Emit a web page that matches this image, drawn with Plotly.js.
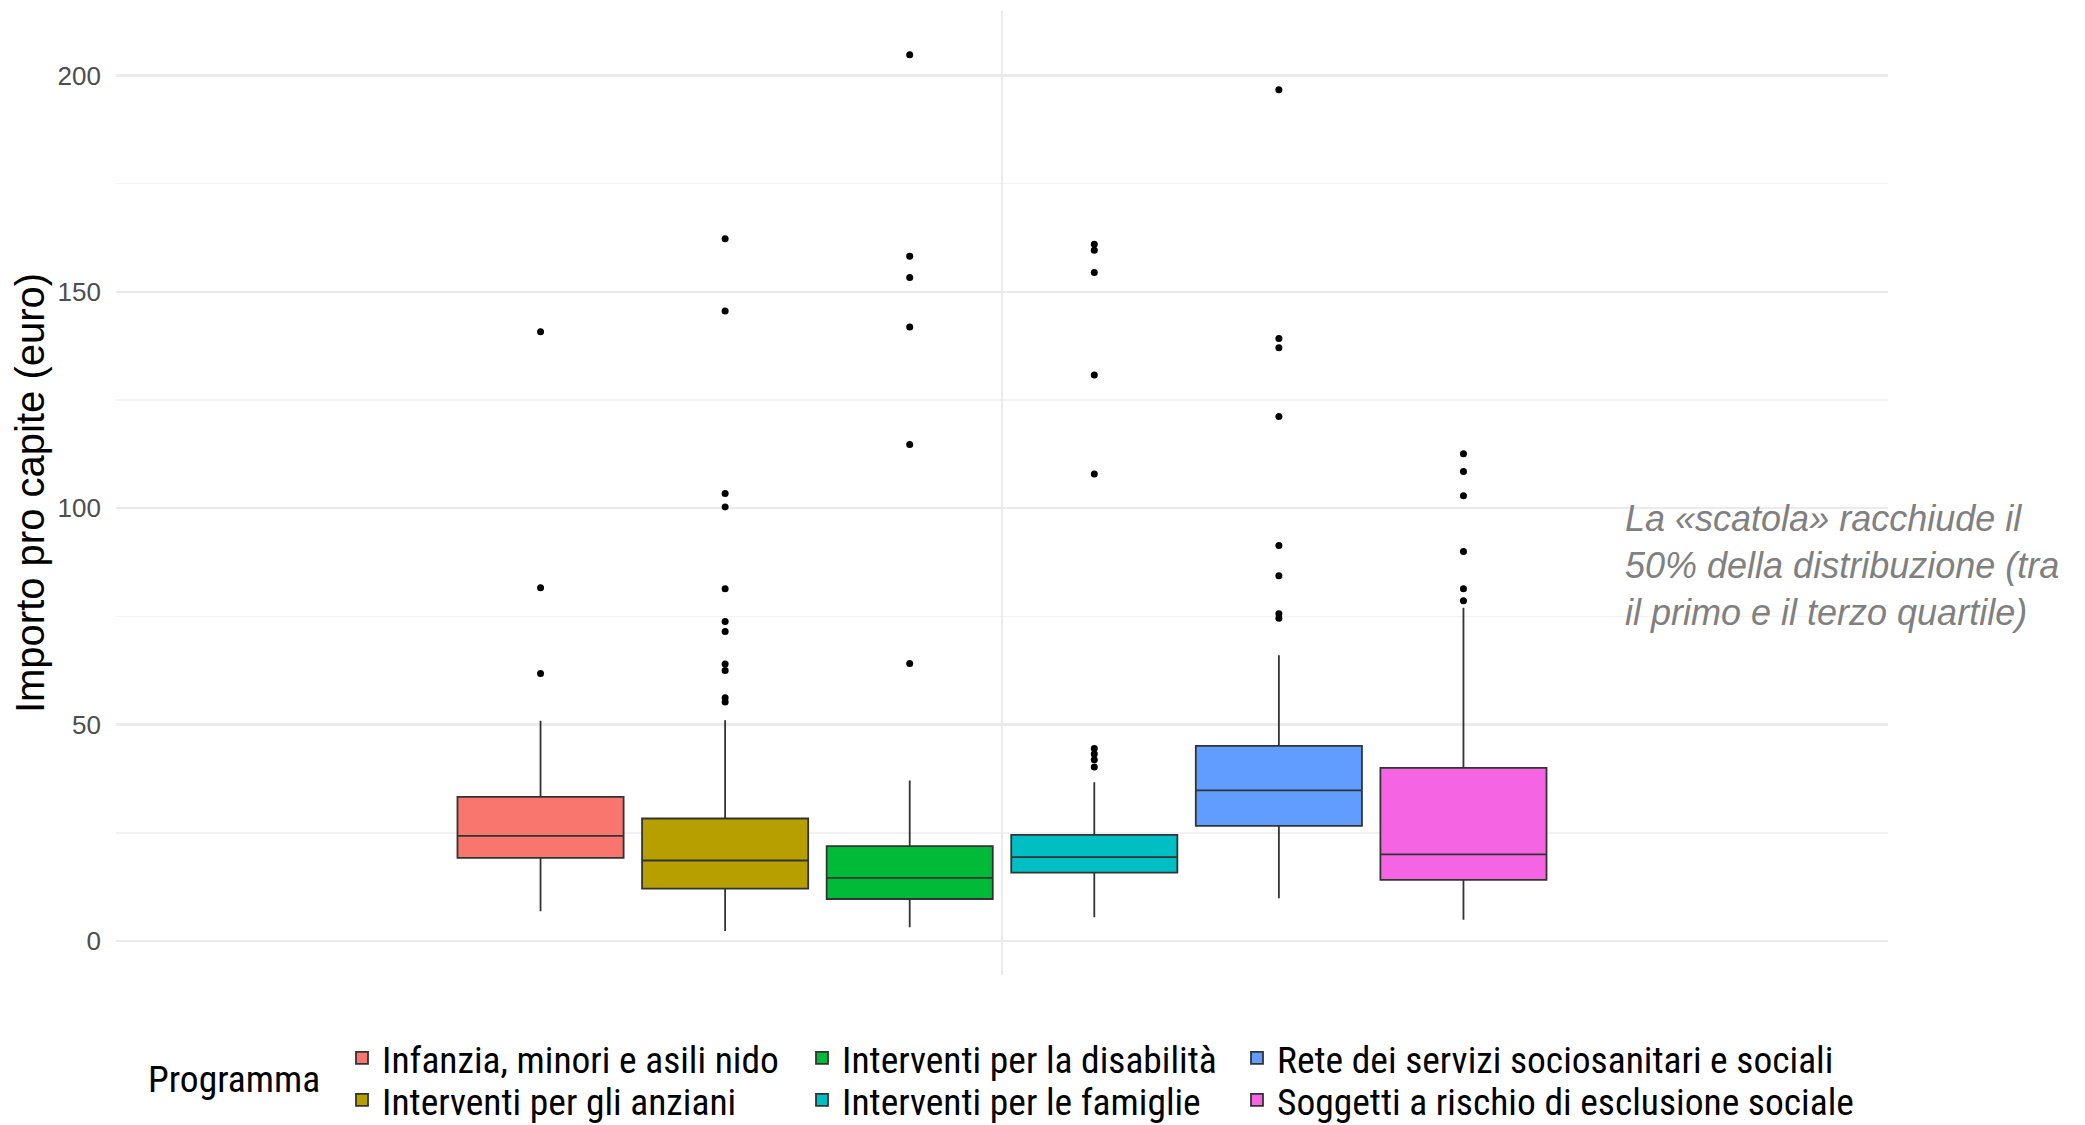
<!DOCTYPE html>
<html>
<head>
<meta charset="utf-8">
<script src="https://cdn.plot.ly/plotly-3.0.1.min.js"></script>
<style>html,body{margin:0;padding:0;background:#fff;}#chart{width:2085px;height:1125px;}</style>
</head>
<body>
<div id="chart"></div>
<script>
// ---- data ----
const programmi = [
  "Infanzia, minori e asili nido",
  "Interventi per gli anziani",
  "Interventi per la disabilità",
  "Interventi per le famiglie",
  "Rete dei servizi sociosanitari e sociali",
  "Soggetti a rischio di esclusione sociale"
];
const colori = ["#F8766D", "#B79F00", "#00BA38", "#00BFC4", "#619CFF", "#F564E3"];
const q1 = [19.2, 12.1, 9.7, 15.8, 26.6, 14.1];
const mediana = [24.3, 18.6, 14.6, 19.4, 34.8, 20.0];
const q3 = [33.3, 28.3, 21.9, 24.5, 45.1, 40.0];
const baffoInf = [6.9, 2.3, 3.2, 5.5, 9.9, 4.9];
const baffoSup = [50.9, 51.0, 37.1, 36.7, 66.0, 77.0];
const outlierInfanzia = [140.8, 81.6, 61.8];
const outlierAnziani = [162.3, 145.6, 103.4, 100.3, 81.4, 73.8, 71.5, 64.0, 62.5, 56.2, 55.2];
const outlierDisabilita = [204.8, 158.2, 153.3, 141.9, 114.7, 64.1];
const outlierFamiglie = [161.0, 159.6, 154.5, 130.8, 107.9, 44.5, 43.2, 41.9, 40.2];
const outlierRete = [196.7, 139.2, 137.1, 121.2, 91.4, 84.4, 75.6, 74.6];
const outlierSoggetti = [112.6, 108.5, 102.9, 90.0, 81.4, 78.6];
const outliers = [outlierInfanzia, outlierAnziani, outlierDisabilita, outlierFamiglie, outlierRete, outlierSoggetti];
const legendaRiga = ["legend", "legend2", "legend", "legend2", "legend", "legend2"];
const yTicks = [0, 50, 100, 150, 200];
const yTitolo = "Importo pro capite (euro)";
const legendaTitolo = "Programma";
const nota = "La «scatola» racchiude il<br>50% della distribuzione (tra<br>il primo e il terzo quartile)";

// ---- chart ----
const W = 2085, H = 1125;
const narrow = "'Liberation Sans Narrow', 'Arial Narrow', 'Roboto Condensed', 'Liberation Sans', Arial, sans-serif";
const legSize = 37.5;
const colWidths = [415, 390, 600];
const traces = programmi.map((p, i) => ({
  type: "box",
  name: p,
  x: [0],
  q1: [q1[i]],
  median: [mediana[i]],
  q3: [q3[i]],
  lowerfence: [baffoInf[i]],
  upperfence: [baffoSup[i]],
  y: [outliers[i]],
  boxpoints: "outliers",
  jitter: 0,
  pointpos: 0,
  whiskerwidth: 0,
  fillcolor: colori[i],
  line: {color: "#333333", width: 1.8},
  marker: {color: "#000000", size: 7, line: {width: 0}},
  legend: legendaRiga[i],
  legendwidth: colWidths[Math.floor(i / 2)],
  hoverinfo: "y"
}));

const layout = {
  width: W, height: H,
  paper_bgcolor: "#ffffff", plot_bgcolor: "#ffffff",
  margin: {l: 116, r: 197, t: 11, b: 150},
  boxmode: "group",
  boxgap: 0.25,
  boxgroupgap: 0.1,
  font: {family: "'Liberation Sans', Arial, sans-serif"},
  xaxis: {
    type: "linear", range: [-0.6, 0.6], tickvals: [0], showticklabels: false,
    showgrid: true, gridcolor: "#EBEBEB", gridwidth: 2, zeroline: false, showline: false, ticks: ""
  },
  yaxis: {
    range: [-7.86, 214.9], tickvals: yTicks, ticktext: yTicks.map(String),
    showgrid: true, gridcolor: "#EBEBEB", gridwidth: 2.5, zeroline: false, showline: false, ticks: "",
    minor: {dtick: 25, tick0: 0, showgrid: true, gridcolor: "#F2F2F2", gridwidth: 1.5},
    tickfont: {family: "'Liberation Sans', Arial, sans-serif", size: 26, color: "#4D4D4D"},
    ticklabelstandoff: 14,
    automargin: false,
    title: {text: yTitolo, font: {family: "'Liberation Sans', Arial, sans-serif", size: 40, color: "#000000"}, standoff: 0}
  },
  legend: {
    orientation: "h", xref: "container", yref: "container",
    x: 342 / W, y: 1 - 1058 / H, xanchor: "left", yanchor: "middle",
    font: {family: narrow, size: legSize, color: "#000000"}, bgcolor: "rgba(0,0,0,0)", borderwidth: 0
  },
  legend2: {
    orientation: "h", xref: "container", yref: "container",
    x: 342 / W, y: 1 - 1100 / H, xanchor: "left", yanchor: "middle",
    font: {family: narrow, size: legSize, color: "#000000"}, bgcolor: "rgba(0,0,0,0)", borderwidth: 0
  },
  annotations: [
    {
      text: nota, xref: "paper", yref: "paper", x: (1623 - 116) / 1772, y: (975 - 565) / 964,
      xanchor: "left", yanchor: "middle", align: "left", showarrow: false,
      font: {family: "'Liberation Sans', Arial, sans-serif", size: 36, color: "#808080", style: "italic"}
    },
    {
      text: legendaTitolo, xref: "paper", yref: "paper", x: (146 - 116) / 1772, y: (975 - 1079) / 964,
      xanchor: "left", yanchor: "middle", showarrow: false,
      font: {family: narrow, size: legSize, color: "#000000"}
    }
  ],
  showlegend: true
};

Plotly.newPlot("chart", traces, layout, {displayModeBar: false, staticPlot: true});
</script>
</body>
</html>
